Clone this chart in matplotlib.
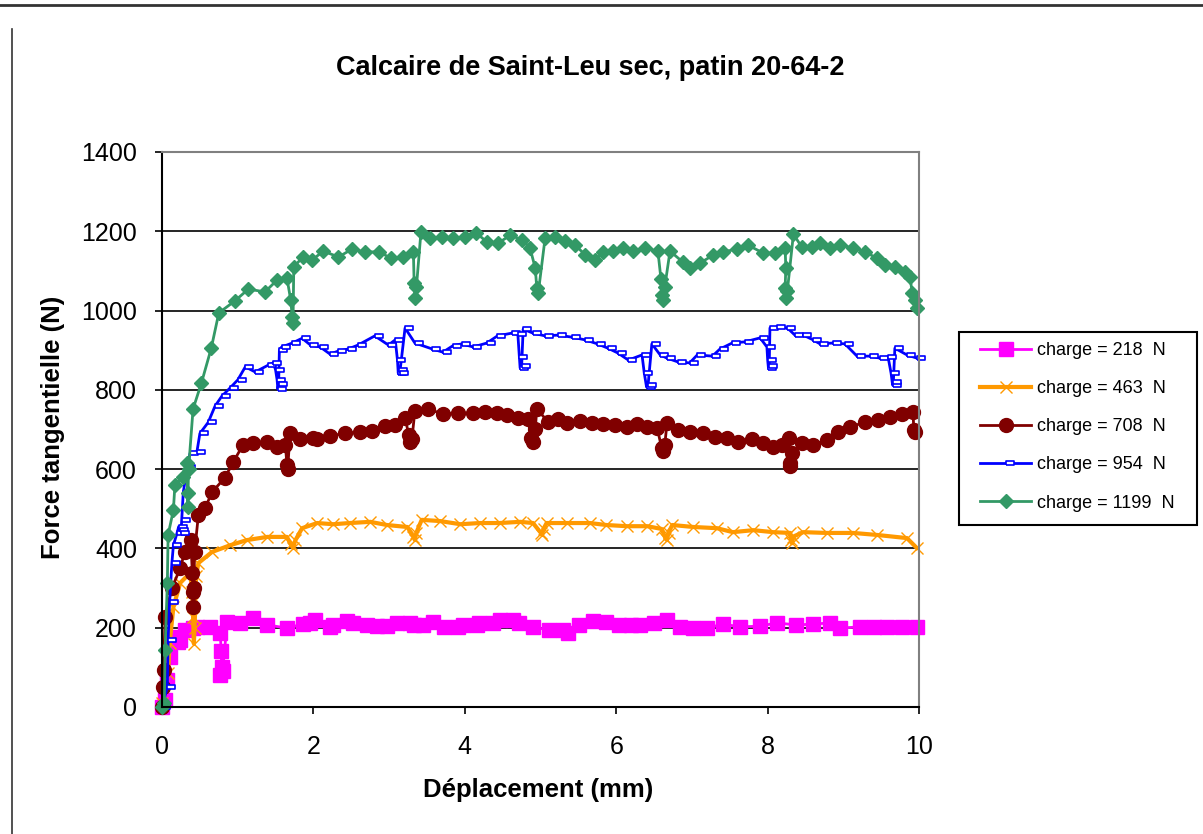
import matplotlib
matplotlib.use("Agg")
import numpy as np
from matplotlib import pyplot as plt
from matplotlib.lines import Line2D
from matplotlib.patches import Rectangle

plt.rcParams['font.family'] = ['Liberation Sans', 'DejaVu Sans']

# donnees (deplacement mm, force N)
pts_218 = [(0.00, 0), (0.04, 18), (0.07, 68), (0.10, 126), (0.15, 176), (0.21, 164),
           (0.24, 169), (0.30, 194), (0.41, 199), (0.46, 202), (0.63, 202), (0.77, 187),
           (0.78, 140), (0.79, 100), (0.77, 80), (0.80, 90), (0.86, 214), (1.03, 212),
           (1.20, 224), (1.39, 207), (1.65, 199), (1.86, 209), (1.96, 212), (2.02, 219),
           (2.22, 202), (2.26, 207), (2.44, 217), (2.52, 212), (2.71, 207), (2.84, 204),
           (2.97, 204), (3.11, 212), (3.28, 212), (3.33, 207), (3.45, 207), (3.58, 214),
           (3.73, 202), (3.91, 202), (3.98, 207), (4.16, 207), (4.19, 212), (4.37, 212),
           (4.46, 219), (4.64, 219), (4.72, 212), (4.90, 202), (5.11, 194), (5.30, 194),
           (5.36, 187), (5.51, 207), (5.69, 217), (5.87, 214), (6.04, 207), (6.20, 207),
           (6.31, 207), (6.50, 212), (6.67, 219), (6.84, 202), (7.02, 199), (7.20, 199),
           (7.41, 209), (7.64, 202), (7.90, 204), (8.12, 212), (8.38, 207), (8.60, 209),
           (8.82, 212), (8.95, 199), (9.22, 202), (9.40, 202), (9.58, 202), (9.78, 202),
           (9.97, 202)]

pts_463 = [(0.00, 10), (0.08, 86), (0.10, 161), (0.15, 252), (0.24, 313), (0.37, 338),
           (0.40, 290), (0.41, 227), (0.42, 160), (0.43, 200), (0.45, 330), (0.48, 363),
           (0.66, 391), (0.90, 408), (1.12, 421), (1.39, 429), (1.65, 429), (1.70, 410),
           (1.73, 401), (1.76, 420), (1.85, 451), (2.05, 464), (2.26, 461), (2.48, 464),
           (2.75, 467), (2.97, 459), (3.24, 454), (3.32, 430), (3.34, 421), (3.36, 440),
           (3.43, 472), (3.67, 469), (3.94, 461), (4.20, 464), (4.46, 464), (4.73, 467),
           (4.90, 464), (5.00, 440), (5.02, 434), (5.04, 450), (5.08, 464), (5.35, 464),
           (5.65, 464), (5.87, 459), (6.14, 456), (6.41, 456), (6.60, 449), (6.65, 425),
           (6.67, 421), (6.69, 440), (6.74, 459), (7.02, 454), (7.33, 451), (7.54, 441),
           (7.81, 446), (8.07, 441), (8.30, 439), (8.31, 420), (8.32, 413), (8.34, 430),
           (8.47, 441), (8.78, 439), (9.13, 439), (9.44, 434), (9.84, 426), (9.97, 401)]

pts_708 = [(0.00, 0), (0.01, 50), (0.02, 93), (0.04, 227), (0.13, 300), (0.24, 350),
           (0.30, 391), (0.38, 421), (0.40, 338), (0.41, 290), (0.41, 252), (0.42, 300),
           (0.43, 391), (0.48, 484), (0.57, 502), (0.66, 542), (0.83, 578), (0.94, 618),
           (1.07, 661), (1.20, 666), (1.39, 668), (1.52, 656), (1.63, 660), (1.65, 610),
           (1.66, 600), (1.69, 691), (1.82, 676), (1.99, 678), (2.05, 676), (2.22, 683),
           (2.42, 691), (2.62, 693), (2.77, 696), (2.95, 709), (3.08, 711), (3.21, 729),
           (3.26, 686), (3.28, 668), (3.30, 675), (3.34, 747), (3.51, 752), (3.71, 739),
           (3.91, 741), (4.11, 741), (4.27, 744), (4.43, 741), (4.56, 736), (4.70, 729),
           (4.83, 726), (4.88, 678), (4.90, 668), (4.93, 700), (4.95, 752), (5.10, 719),
           (5.23, 726), (5.35, 716), (5.52, 721), (5.68, 716), (5.83, 714), (5.98, 711),
           (6.14, 706), (6.27, 714), (6.41, 706), (6.54, 704), (6.60, 653), (6.62, 645),
           (6.64, 660), (6.67, 716), (6.82, 699), (6.97, 693), (7.15, 691), (7.31, 681),
           (7.46, 678), (7.61, 668), (7.79, 676), (7.94, 666), (8.07, 656), (8.19, 661),
           (8.28, 678), (8.29, 615), (8.30, 607), (8.32, 640), (8.45, 666), (8.60, 661),
           (8.78, 673), (8.93, 693), (9.09, 706), (9.29, 719), (9.46, 724), (9.62, 731),
           (9.78, 739), (9.92, 744), (9.93, 699), (9.94, 693)]

pts_954 = [(0.00, 0), (0.07, 50), (0.08, 169), (0.10, 265), (0.13, 363), (0.15, 408),
           (0.20, 440), (0.22, 455), (0.24, 446), (0.25, 440), (0.26, 472), (0.28, 540),
           (0.33, 605), (0.37, 640), (0.46, 643), (0.50, 690), (0.61, 718), (0.70, 759),
           (0.79, 784), (0.90, 805), (1.00, 825), (1.10, 858), (1.23, 845), (1.40, 862),
           (1.47, 868), (1.50, 850), (1.52, 825), (1.53, 802), (1.54, 815), (1.55, 900),
           (1.58, 908), (1.72, 918), (1.85, 930), (1.96, 913), (2.09, 908), (2.22, 890),
           (2.33, 898), (2.46, 903), (2.59, 913), (2.81, 936), (2.99, 913), (3.08, 926),
           (3.11, 875), (3.12, 842), (3.13, 850), (3.14, 842), (3.21, 956), (3.34, 918),
           (3.57, 903), (3.71, 895), (3.84, 911), (3.96, 916), (4.11, 908), (4.29, 918),
           (4.43, 936), (4.62, 943), (4.70, 940), (4.72, 883), (4.73, 855), (4.75, 860),
           (4.77, 953), (4.90, 943), (5.06, 936), (5.23, 938), (5.41, 933), (5.59, 926),
           (5.75, 916), (5.89, 905), (6.02, 893), (6.16, 875), (6.34, 888), (6.37, 842),
           (6.40, 807), (6.42, 812), (6.47, 916), (6.58, 888), (6.67, 880), (6.82, 870),
           (6.97, 868), (7.07, 888), (7.27, 885), (7.37, 903), (7.53, 918), (7.70, 921),
           (7.90, 931), (7.99, 908), (8.00, 875), (8.01, 855), (8.02, 860), (8.03, 956),
           (8.12, 958), (8.26, 956), (8.36, 938), (8.47, 938), (8.60, 926), (8.69, 916),
           (8.86, 918), (9.02, 916), (9.18, 885), (9.35, 885), (9.48, 880), (9.59, 883),
           (9.63, 842), (9.65, 812), (9.66, 820), (9.68, 905), (9.84, 888), (9.97, 880)]

pts_1199 = [(0.00, 0), (0.03, 10), (0.04, 144), (0.07, 313), (0.08, 434), (0.15, 497),
            (0.17, 560), (0.28, 580), (0.33, 615), (0.34, 540), (0.34, 505), (0.35, 600),
            (0.41, 752), (0.52, 817), (0.65, 905), (0.75, 994), (0.96, 1024), (1.14, 1054),
            (1.36, 1047), (1.52, 1077), (1.65, 1082), (1.70, 1026), (1.72, 984), (1.73, 968),
            (1.74, 1110), (1.86, 1135), (1.98, 1127), (2.13, 1150), (2.33, 1135), (2.51, 1155),
            (2.68, 1148), (2.87, 1148), (3.02, 1132), (3.18, 1135), (3.32, 1148), (3.33, 1070),
            (3.34, 1031), (3.36, 1059), (3.42, 1198), (3.54, 1183), (3.70, 1185), (3.84, 1183),
            (4.00, 1185), (4.15, 1196), (4.29, 1173), (4.44, 1170), (4.60, 1190), (4.76, 1178),
            (4.86, 1158), (4.93, 1107), (4.95, 1057), (4.97, 1045), (5.06, 1183), (5.19, 1185),
            (5.32, 1175), (5.46, 1165), (5.59, 1140), (5.72, 1127), (5.83, 1148), (5.96, 1150),
            (6.09, 1158), (6.22, 1150), (6.38, 1158), (6.55, 1150), (6.59, 1080), (6.60, 1040),
            (6.62, 1026), (6.64, 1059), (6.71, 1150), (6.88, 1122), (6.97, 1107), (7.11, 1120),
            (7.28, 1140), (7.41, 1148), (7.60, 1155), (7.74, 1165), (7.94, 1145), (8.10, 1145),
            (8.23, 1158), (8.24, 1107), (8.23, 1057), (8.24, 1031), (8.26, 1050), (8.34, 1193),
            (8.45, 1160), (8.58, 1160), (8.69, 1170), (8.82, 1158), (8.96, 1165), (9.13, 1158),
            (9.29, 1148), (9.44, 1132), (9.55, 1115), (9.68, 1110), (9.82, 1097), (9.88, 1084),
            (9.91, 1044), (9.95, 1026), (9.97, 1006)]

labels = ["charge = 218  N", "charge = 463  N", "charge = 708  N",
          "charge = 954  N", "charge = 1199  N"]

# petit rectangle ouvert a droite du point (marqueur de la serie 954 N)
rect = [(0, -0.25), (1, -0.25), (1, 0.25), (0, 0.25), (0, -0.25)]

fig = plt.figure(figsize=(12.03, 8.34), dpi=100)
ax = fig.add_axes([0.1347, 0.1523, 0.6293, 0.6655])

styles = [
    dict(color='#FF00FF', marker='s', ms=10.5, lw=2),
    dict(color='#FF9900', marker='x', ms=9, mew=1, lw=3),
    dict(color='#800000', marker='o', ms=10, lw=2),
    dict(color='#0000FF', marker=rect, ms=12, mfc='white', mec='#0000FF', mew=1.2, lw=2),
    dict(color='#339966', marker='D', ms=7, lw=2),
]
for pts, lab, st in zip([pts_218, pts_463, pts_708, pts_954, pts_1199], labels, styles):
    xs, ys = zip(*pts)
    ax.plot(xs, ys, label=lab, clip_on=False, **st)

ax.set_xlim(0, 10)
ax.set_ylim(0, 1400)
ax.set_xticks(np.arange(0, 11, 2))
ax.set_yticks(np.arange(0, 1401, 200))
ax.yaxis.grid(True, color='black', lw=1.2)
ax.set_axisbelow(True)
ax.tick_params(labelsize=18, length=5, width=1.2, direction='out')
ax.tick_params(axis='y', pad=13)
ax.tick_params(axis='x', pad=15)
for s in ['left', 'bottom']:
    ax.spines[s].set_color('black')
    ax.spines[s].set_linewidth(1.5)
for s in ['top', 'right']:
    ax.spines[s].set_color('#808080')
    ax.spines[s].set_linewidth(1.5)

fig.text(0.4905, 0.918, "Calcaire de Saint-Leu sec, patin 20-64-2",
         ha='center', va='center', fontsize=19.5, fontweight='bold')
fig.text(0.044, 0.4874, "Force tangentielle (N)", rotation=90,
         ha='center', va='center', fontsize=18.5, fontweight='bold')
fig.text(0.447, 0.053, "Déplacement (mm)", ha='center', va='center',
         fontsize=18.5, fontweight='bold')

# legende sans cadre + cadre dessine a part
leg = ax.legend(loc='upper left', bbox_to_anchor=(0.8146, 0.5899),
                bbox_transform=fig.transFigure, fontsize=13, frameon=False,
                borderaxespad=0, borderpad=0, handlelength=2.83,
                handletextpad=0.33, labelspacing=1.17)
fig.add_artist(Rectangle((959 / 1203, 1 - 525 / 834), 238 / 1203, 193 / 834,
                         transform=fig.transFigure, fill=False,
                         edgecolor='black', lw=1.5))

# cadre de la page
fig.add_artist(Line2D([0, 1], [0.994, 0.994], color='#333333', lw=2))
fig.add_artist(Line2D([0.0096, 0.0096], [0, 0.965], color='#333333', lw=1.2))

fig.savefig("out.png", dpi=100)
